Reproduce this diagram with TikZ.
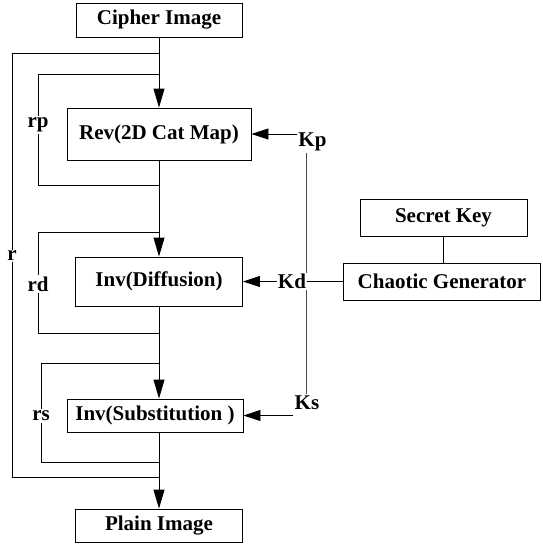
\documentclass[tikz,border=0pt]{standalone}
\usepackage{fontspec}
\setmainfont{Liberation Serif}
\usetikzlibrary{arrows.meta}
\begin{document}
\begin{tikzpicture}[x=1pt,y=-1pt,line width=0.9pt,
  box/.style={draw, inner sep=0pt, font=\fontsize{21}{25}\selectfont\bfseries},
  lab/.style={inner sep=1pt, font=\fontsize{21}{25}\selectfont\bfseries},
  flow/.style={-{Triangle[length=19pt,width=11pt]}},
  keyarrow/.style={-{Triangle[length=17pt,width=11pt]}},
  keyline/.style={draw=black!70}]
\useasboundingbox (0,0) rectangle (542,544);

% boxes
\node[box, minimum width=166pt, minimum height=34pt] (cipher) at (159,20) {Cipher Image};
\node[box, minimum width=184pt, minimum height=52pt] (rev) at (159,134) {Rev(2D Cat Map)};
\node[box, minimum width=167pt, minimum height=49pt] (diff) at (159,281.5) {Inv(Diffusion)};
\node[box, minimum width=176pt, minimum height=33pt] (subst) at (155,415.5) {Inv(Substitution )};
\node[box, minimum width=167pt, minimum height=33pt] (plain) at (159,525.5) {Plain Image};
\node[box, minimum width=167pt, minimum height=37pt] (secret) at (443.5,217.5) {Secret Key};
\node[box, minimum width=197pt, minimum height=37pt] (chaotic) at (442,281.5) {Chaotic Generator};

% main flow
\draw[flow] (cipher) -- (rev);
\draw[flow] (rev) -- (diff);
\draw[flow] (diff.south) -- (diff.south |- subst.north);
\draw[flow] (plain.north |- subst.south) -- (plain.north);

% loop labels
\node[lab] (r) at (12,256) {r};
\node[lab] (rp) at (38,125) {rp};
\node[lab] (rd) at (38,284) {rd};
\node[lab] (rs) at (41,416) {rs};

% loop junctions
\coordinate (rtop) at (159,53);
\coordinate (rbot) at (159,477);
\coordinate (rptop) at (159,74);
\coordinate (rpbot) at (159,185);
\coordinate (rdtop) at (159,232);
\coordinate (rdbot) at (159,333);
\coordinate (rstop) at (159,363);
\coordinate (rsbot) at (159,462);

\draw (rtop) -| (r.north);
\draw (r.south) |- (rbot);
\draw (rptop) -| (rp.north);
\draw (rp.south) |- (rpbot);
\draw (rdtop) -| (rd.north);
\draw (rd.south) |- (rdbot);
\draw (rstop) -| (rs.north);
\draw (rs.south) |- (rsbot);

% key labels
\node[lab] (Kp) at (312.5,142) {Kp};
\node[lab] (Kd) at (292,281.5) {Kd};
\node[lab] (Ks) at (307,402.5) {Ks};
\coordinate (kx) at (306,0);

\draw[keyline] (Kp.south -| kx) -- (Kd.north -| kx);
\draw[keyline] (Kd.south -| kx) -- (Ks.north -| kx);

\draw[keyarrow] (Kp.west |- rev.east) -- (rev.east);
\draw[keyarrow] (Kd.west) -- (diff.east);
\draw[keyarrow] (Ks.west |- subst.east) -- (subst.east);
\draw (Kd.east) -- (chaotic.west);
\draw (secret) -- (secret |- chaotic.north);
\end{tikzpicture}
\end{document}
